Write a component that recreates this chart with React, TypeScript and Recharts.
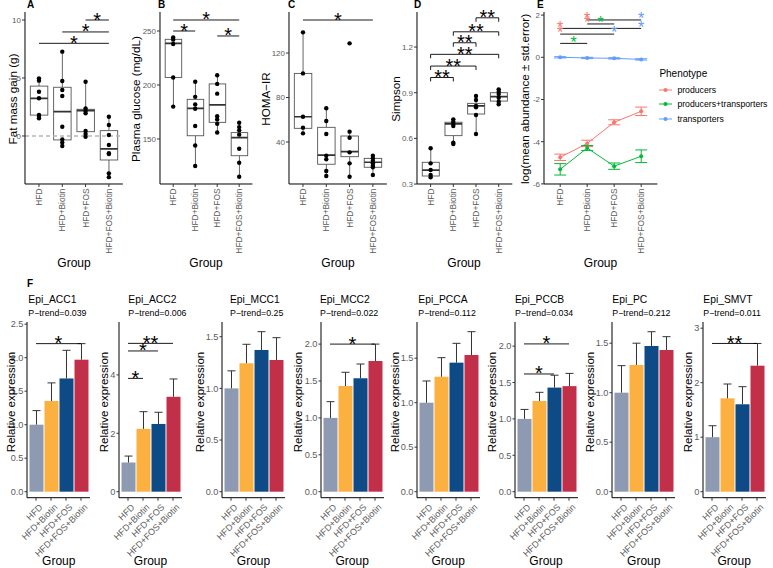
import React from 'react';
import {
  ComposedChart, LineChart, Line, Bar, Scatter, Cell, XAxis, YAxis,
  ReferenceLine, ReferenceDot, ErrorBar, Legend,
} from 'recharts';

const GROUPS = ['HFD', 'HFD+Biotin', 'HFD+FOS', 'HFD+FOS+Biotin'];
const [G1, G2, G3, G4] = GROUPS;

// A - fat mass gain (g); box rows are [lower whisker, Q1, median, Q3, upper whisker]
const fatPoints = [
  [4.97, 4.77, 3.82, 3.25, 1.81, 1.66, 1.52],
  [7.27, 4.74, 3.97, 3.45, 0.8, -0.29, -0.57, -0.86],
  [4.68, 2.38, 2.16, 1.95, 0.43, 0.17, -0.06],
  [1.66, 0.95, 0.09, -0.78, -1.49, -1.55, -3.22, -3.55],
];
const fatBox = [
  [1.52, 1.8, 3.25, 4.3, 4.97],
  [-0.86, -0.34, 2.1, 4.2, 7.27],
  [-0.06, 0.37, 2.18, 2.3, 4.68],
  [-3.55, -2.07, -1.12, 0.46, 1.66],
];
const fatSig = [[G1, G4, 7.99, '*'], [G2, G4, 8.97, '*'], [G3, G4, 10.0, '*']];

// B - plasma glucose (mg/dL)
const glucosePoints = [
  [244, 242, 238, 207, 180],
  [203, 189, 182, 178, 162, 144, 125],
  [209, 201, 192, 171, 168, 164, 156],
  [165, 161, 158, 154, 141, 128, 115],
];
const glucoseBox = [
  [180, 207, 238.6, 242.3, 244],
  [125, 153, 178.4, 186.7, 203],
  [156, 165.4, 181.5, 201, 209],
  [115, 134.5, 151.2, 155.9, 165.4],
];
const glucoseSig = [[G1, G4, 260.2, '*'], [G1, G2, 250, '*'], [G3, G4, 245.4, '*']];

// C - HOMA-IR
const homaPoints = [
  [138.6, 101.7, 62.7, 52.9, 47.8],
  [70.3, 58.9, 47.2, 27.7, 24.4, 13.9, 9.4],
  [128.7, 49.3, 43.9, 30.7, 20.8, 8.8],
  [27.7, 25.3, 23.2, 20.8, 18.7, 17.3, 10.3],
];
const homaBox = [
  [47.8, 52.3, 62.7, 101.7, 138.6],
  [9.4, 20, 28.3, 53.2, 70.3],
  [8.8, 26.8, 31.3, 45.4, 49.3],
  [10.3, 17.3, 21.8, 25.3, 27.7],
];
const homaSig = [[G1, G4, 149.7, '*']];

// D - Simpson diversity
const simpsonPoints = [
  [0.535, 0.436, 0.392, 0.36, 0.345],
  [0.725, 0.71, 0.695, 0.681, 0.572, 0.563],
  [0.878, 0.852, 0.813, 0.804, 0.754, 0.629],
  [0.922, 0.907, 0.891, 0.867, 0.841, 0.824],
];
const simpsonBox = [
  [0.345, 0.353, 0.392, 0.443, 0.535],
  [0.563, 0.618, 0.695, 0.706, 0.725],
  [0.629, 0.76, 0.813, 0.83, 0.878],
  [0.824, 0.845, 0.874, 0.9, 0.922],
];
const simpsonSig = [
  [G1, G2, 1.0, '**'], [G1, G3, 1.075, '**'], [G1, G4, 1.152, '**'],
  [G2, G3, 1.228, '**'], [G2, G4, 1.3, '**'], [G3, G4, 1.392, '**'],
];

// E - log mean abundance per phenotype
const PHENOTYPES = ['producers', 'producers+transporters', 'transporters'];
const producersMean = [-4.74, -4.08, -3.08, -2.56];
const producersErr = [0.15, 0.15, 0.12, 0.2];
const bothMean = [-5.31, -4.3, -5.16, -4.69];
const bothErr = [0.27, 0.12, 0.15, 0.3];
const transMean = [0, -0.03, -0.05, -0.1];
const transErr = [0.03, 0.03, 0.03, 0.03];
// [from, to, y, star at from, star at middle, star at to]
const abundSig = [
  [G2, G4, 1.77, 'producers', null, 'transporters'],
  [G2, G3, 1.58, 'producers', 'producers+transporters', null],
  [G1, G4, 1.37, 'producers', null, 'transporters'],
  [G1, G3, 1.1, 'producers', null, 'transporters'],
  [G1, G2, 0.66, null, 'producers+transporters', null],
];

// F - relative expression (mean, standard error)
const GENES = ['Epi_ACC1', 'Epi_ACC2', 'Epi_MCC1', 'Epi_MCC2', 'Epi_PCCA', 'Epi_PCCB', 'Epi_PC', 'Epi_SMVT'];
const PTREND = ['0.039', '0.006', '0.25', '0.022', '0.112', '0.034', '0.212', '0.011'];
const exprMean = [
  [1.0, 1.354, 1.69, 1.97],
  [1.0, 2.15, 2.32, 3.25],
  [1.0, 1.243, 1.372, 1.275],
  [1.0, 1.432, 1.537, 1.771],
  [1.0, 1.292, 1.45, 1.536],
  [1.0, 1.246, 1.43, 1.45],
  [1.0, 1.28, 1.472, 1.431],
  [1.0, 1.713, 1.604, 2.312],
];
const exprSe = [
  [0.21, 0.27, 0.42, 0.24],
  [0.22, 0.59, 0.4, 0.61],
  [0.17, 0.184, 0.177, 0.216],
  [0.22, 0.186, 0.193, 0.229],
  [0.244, 0.214, 0.217, 0.262],
  [0.13, 0.119, 0.17, 0.175],
  [0.273, 0.22, 0.144, 0.135],
  [0.21, 0.263, 0.323, 0.408],
];
const exprSig = [
  [[G1, G4, 2.21, '*']],
  [[G1, G4, 5.08, '**'], [G1, G3, 4.82, '*'], [G1, G2, 3.88, '*']],
  [],
  [[G1, G4, 2.0, '*']],
  [],
  [[G1, G4, 2.03, '*'], [G1, G3, 1.617, '*']],
  [],
  [[G1, G4, 2.72, '**']],
];
const exprTicks = [
  [0, 0.5, 1, 1.5, 2, 2.5], [0, 2, 4], [0, 0.5, 1, 1.5], [0, 0.5, 1, 1.5, 2],
  [0, 0.5, 1, 1.5], [0, 0.5, 1, 1.5, 2], [0, 0.5, 1, 1.5], [0, 1, 2, 3],
];

const FONT = '"Liberation Sans", Arial, Helvetica, sans-serif';
const TICK_FILL = '#5c5c5c';
const AXIS = { stroke: '#000', strokeWidth: 1 };
const TICK_LINE = { stroke: '#333', strokeWidth: 1 };
const GROUP_COLORS = ['#8d9ab1', '#fcb040', '#0d4a86', '#c22f49'];
const PHENO_COLORS: Record<string, string> = {
  producers: '#F8766D',
  'producers+transporters': '#00BA38',
  transporters: '#619CFF',
};
const YW = 26;
const TOP_PLOT = 12;
const TOP_H = 172;
const TOP_MT = 12;
const TOP_XH = 80;
const F_PLOT = 322;
const F_H = 175.7;
const F_MT = 22;
const F_XH = 62;

const fmt1 = (v: number) => v.toFixed(1);
const fmt0 = (v: number) => String(v);

function VTick(props: any) {
  const { x, y, payload } = props;
  return (
    <text x={x} y={y} transform={`rotate(-90, ${x}, ${y})`} textAnchor="end"
      dominantBaseline="central" fontSize={8.4} fill={TICK_FILL}>
      {payload.value}
    </text>
  );
}

function DiagTick(props: any) {
  const { x, y, payload } = props;
  const ax = x + 5;
  const ay = y + 3;
  return (
    <text x={ax} y={ay} transform={`rotate(-45, ${ax}, ${ay})`} textAnchor="end"
      dominantBaseline="central" fontSize={9} fill={TICK_FILL}>
      {payload.value}
    </text>
  );
}

function BoxShape(props: any) {
  const { x, y, width, height, payload } = props;
  const [lo, q1, med, q3, hi] = payload.stats;
  const py = (v: number) => y + height - ((v - q1) * height) / (q3 - q1);
  const cx = x + width / 2;
  const top = Math.min(y, y + height);
  return (
    <g>
      <line x1={cx} x2={cx} y1={py(hi)} y2={py(q3)} stroke="#555" strokeWidth={0.9} />
      <line x1={cx} x2={cx} y1={py(q1)} y2={py(lo)} stroke="#555" strokeWidth={0.9} />
      <rect x={x} y={top} width={width} height={Math.abs(height)} fill="#fff" stroke="#555" strokeWidth={0.9} />
      <line x1={x} x2={x + width} y1={py(med)} y2={py(med)} stroke="#333" strokeWidth={1.7} />
    </g>
  );
}

function MeanBar(props: any) {
  const { x, y, width, height, fill, payload } = props;
  const top = y - (payload.se * height) / payload.mean;
  const cx = x + width / 2;
  return (
    <g>
      <rect x={x} y={y} width={width} height={height} fill={fill} />
      <line x1={cx} x2={cx} y1={y} y2={top} stroke="#333" strokeWidth={1} />
      <line x1={cx - 4} x2={cx + 4} y1={top} y2={top} stroke="#333" strokeWidth={1} />
    </g>
  );
}

const starLabel = (text: string, size: number, color: string) => ({
  value: text, position: 'top', offset: -(0.575 * size - 5), fontSize: size, fill: color,
});

function sigMarks(list: any[], tip: number) {
  const out: any[] = [];
  list.forEach(([a, b, y, txt], i) => {
    out.push(
      <ReferenceLine key={`s${i}`} segment={[{ x: a, y }, { x: b, y }]} stroke="#000"
        strokeWidth={0.9} label={starLabel(txt, 20, '#000')} />,
    );
    if (tip) {
      out.push(<ReferenceLine key={`ta${i}`} segment={[{ x: a, y }, { x: a, y: y - tip }]} stroke="#000" strokeWidth={0.9} />);
      out.push(<ReferenceLine key={`tb${i}`} segment={[{ x: b, y }, { x: b, y: y - tip }]} stroke="#000" strokeWidth={0.9} />);
    }
  });
  return out;
}

const dotShape = (key: string) => (p: any) =>
  p.payload?.[key] == null || p.cy == null ? <g /> : <circle cx={p.cx} cy={p.cy} r={2.2} fill="#000" />;

function BoxPanel({ left, s, domain, ticks, fmt, points, box, sig, tip = 0, zeroLine = false }: any) {
  const rows = GROUPS.map((g, i) => {
    const row: any = { group: g, stats: box[i], box: [box[i][1], box[i][3]] };
    points[i].forEach((v: number, j: number) => { row[`p${j}`] = v; });
    return row;
  });
  const maxPts = Math.max(...points.map((p: number[]) => p.length));
  return (
    <div style={{ position: 'absolute', left: left - YW, top: TOP_PLOT - TOP_MT }}>
      <ComposedChart width={YW + 4.2 * s + 4} height={TOP_MT + TOP_H + TOP_XH} data={rows}
        margin={{ top: TOP_MT, right: 4, bottom: 0, left: 0 }}>
        <XAxis dataKey="group" type="category" interval={0} padding={{ left: s * 0.1, right: s * 0.1 }}
          height={TOP_XH} tick={<VTick />} tickSize={3} tickMargin={1.5} axisLine={AXIS} tickLine={TICK_LINE} />
        <YAxis type="number" domain={domain} ticks={ticks} allowDataOverflow width={YW} tickFormatter={fmt}
          tick={{ fontSize: 8, fill: TICK_FILL }} tickSize={3} tickMargin={1} axisLine={AXIS} tickLine={TICK_LINE} />
        {zeroLine && <ReferenceLine y={0} stroke="#b5b5b5" strokeWidth={1.6} strokeDasharray="4 3" />}
        <Bar dataKey="box" barSize={s * 0.75} shape={BoxShape} isAnimationActive={false} />
        {Array.from({ length: maxPts }, (_, j) => (
          <Scatter key={j} dataKey={`p${j}`} shape={dotShape(`p${j}`)} isAnimationActive={false} />
        ))}
        {sigMarks(sig, tip)}
      </ComposedChart>
    </div>
  );
}

function ExprPanel({ left, idx, domain }: any) {
  const rows = GROUPS.map((g, i) => ({ group: g, mean: exprMean[idx][i], se: exprSe[idx][i] }));
  const s = 15;
  const decimals = exprTicks[idx].some((t) => !Number.isInteger(t));
  return (
    <div style={{ position: 'absolute', left: left - YW, top: F_PLOT - F_MT }}>
      <ComposedChart width={YW + 4.2 * s + 4} height={F_MT + F_H + F_XH} data={rows}
        margin={{ top: F_MT, right: 4, bottom: 0, left: 0 }}>
        <XAxis dataKey="group" type="category" interval={0} padding={{ left: s * 0.1, right: s * 0.1 }}
          height={F_XH} tick={<DiagTick />} tickSize={3} tickMargin={2} axisLine={AXIS} tickLine={TICK_LINE} />
        <YAxis type="number" domain={domain} ticks={exprTicks[idx]} allowDataOverflow width={YW}
          tickFormatter={decimals ? fmt1 : fmt0} tick={{ fontSize: 9.2, fill: TICK_FILL }}
          tickSize={2.5} tickMargin={1} axisLine={AXIS} tickLine={TICK_LINE} />
        <Bar dataKey="mean" barSize={14} shape={MeanBar} isAnimationActive={false}>
          {rows.map((r, i) => <Cell key={r.group} fill={GROUP_COLORS[i]} />)}
        </Bar>
        {sigMarks(exprSig[idx], 0)}
      </ComposedChart>
    </div>
  );
}

function PhenoLegend(props: any) {
  const { payload = [] } = props;
  return (
    <div style={{ fontFamily: FONT, paddingLeft: 2, whiteSpace: 'nowrap' }}>
      <div style={{ fontSize: 10, lineHeight: '12px', color: '#000', marginBottom: 2.7 }}>Phenotype</div>
      {payload.map((e: any) => (
        <div key={e.value} style={{ display: 'flex', alignItems: 'center', height: 14.5 }}>
          <svg width={13} height={6}>
            <line x1={0} x2={13} y1={3} y2={3} stroke={e.color} strokeWidth={1} />
            <circle cx={6.5} cy={3} r={2} fill={e.color} />
          </svg>
          <span style={{ marginLeft: 5, fontSize: 8.7, color: '#000' }}>{e.value}</span>
        </div>
      ))}
    </div>
  );
}

function StarDot(color: string) {
  return (p: any) => (
    <text x={p.cx} y={p.cy + 4.2} textAnchor="middle" fontSize={16} fill={color}>*</text>
  );
}

function AbundancePanel() {
  const s = 27;
  const LEG_W = 116;
  const rows = GROUPS.map((g, i) => ({
    group: g,
    prod: producersMean[i], prodErr: producersErr[i],
    both: bothMean[i], bothErr: bothErr[i],
    trans: transMean[i], transErr: transErr[i],
  }));
  const series = [
    ['prod', 'prodErr', PHENOTYPES[0]],
    ['both', 'bothErr', PHENOTYPES[1]],
    ['trans', 'transErr', PHENOTYPES[2]],
  ];
  const marks: any[] = [];
  abundSig.forEach(([a, b, y, sa, sm, sb]: any, i) => {
    marks.push(
      <ReferenceLine key={`l${i}`} segment={[{ x: a, y }, { x: b, y }]} stroke="#000" strokeWidth={0.9}
        label={sm ? starLabel('*', 16, PHENO_COLORS[sm]) : undefined} />,
    );
    if (sa) marks.push(<ReferenceDot key={`a${i}`} x={a} y={y} r={0} shape={StarDot(PHENO_COLORS[sa])} />);
    if (sb) marks.push(<ReferenceDot key={`b${i}`} x={b} y={y} r={0} shape={StarDot(PHENO_COLORS[sb])} />);
  });
  return (
    <div style={{ position: 'absolute', left: 544 - YW, top: TOP_PLOT - TOP_MT }}>
      <LineChart width={YW + 4.2 * s + LEG_W} height={TOP_MT + TOP_H + TOP_XH} data={rows}
        margin={{ top: TOP_MT, right: 0, bottom: 0, left: 0 }}>
        <XAxis dataKey="group" type="category" scale="point" interval={0} padding={{ left: s * 0.6, right: s * 0.6 }}
          height={TOP_XH} tick={<VTick />} tickSize={3} tickMargin={1.5} axisLine={AXIS} tickLine={TICK_LINE} />
        <YAxis type="number" domain={[-6.005, 2.147]} ticks={[-6, -4, -2, 0, 2]} allowDataOverflow width={YW}
          tickFormatter={fmt0} tick={{ fontSize: 8, fill: TICK_FILL }} tickSize={3} tickMargin={1}
          axisLine={AXIS} tickLine={TICK_LINE} />
        {series.map(([k, ek, name]) => (
          <Line key={k} dataKey={k} name={name} stroke={PHENO_COLORS[name]} strokeWidth={1}
            dot={{ r: 2, fill: PHENO_COLORS[name], stroke: 'none' }} isAnimationActive={false}>
            <ErrorBar dataKey={ek} width={6} stroke={PHENO_COLORS[name]} strokeWidth={1} direction="y" />
          </Line>
        ))}
        {marks}
        <Legend layout="vertical" align="right" verticalAlign="top" content={<PhenoLegend />}
          wrapperStyle={{ width: LEG_W, top: 68 }} />
      </LineChart>
    </div>
  );
}

// F panels: plot left edge and pixels per unit (sets each y domain)
const F_LEFT = [27.3, 119, 222, 320.7, 416.7, 514.5, 612.3, 702.7];
const F_TITLE_X = [28.3, 128.3, 230, 320, 418.3, 515, 612.3, 703.3];
const F_YTITLE_X = [11, 104, 200, 298, 395, 492, 590, 687.7];
const F_SCALE = [67, 29.2, 103.3, 73.8, 89, 72.8, 99, 54.5];

export default function App() {
  const topGroupX = [74, 206, 338, 464, 600.5];
  const topTitles = [
    ['Fat mass gain (g)', 12], ['Plasma glucose (mg/dL)', 135], ['HOMA\u2212IR', 265],
    ['Simpson', 395], ['log(mean abundance \u00b1 std.error)', 524],
  ];
  const letters = [['A', 27, 7.5], ['B', 158, 7.5], ['C', 288, 7.5], ['D', 414, 7.5], ['E', 537, 7.5], ['F', 27, 287]];
  return (
    <div style={{ position: 'absolute', left: 0, top: 0, width: 773, height: 568, background: '#fff', overflow: 'hidden', fontFamily: FONT }}>
      <BoxPanel left={25} s={23.3} domain={[-4.14, 10.69]} ticks={[0, 5, 10]} fmt={fmt0}
        points={fatPoints} box={fatBox} sig={fatSig} zeroLine />
      <BoxPanel left={159.8} s={22} domain={[108.3, 267.6]} ticks={[150, 200, 250]} fmt={fmt0}
        points={glucosePoints} box={glucoseBox} sig={glucoseSig} />
      <BoxPanel left={289} s={23.3} domain={[2.25, 156.9]} ticks={[40, 80, 120]} fmt={fmt0}
        points={homaPoints} box={homaBox} sig={homaSig} />
      <BoxPanel left={416.5} s={22.7} domain={[0.3005, 1.43]} ticks={[0.3, 0.6, 0.9, 1.2]} fmt={fmt1}
        points={simpsonPoints} box={simpsonBox} sig={simpsonSig} tip={0.026} />
      <AbundancePanel />
      {GENES.map((g, i) => (
        <ExprPanel key={g} idx={i} left={F_LEFT[i]} domain={[-6 / F_SCALE[i], 169.7 / F_SCALE[i]]} />
      ))}
      <svg width={773} height={568} style={{ position: 'absolute', left: 0, top: 0, pointerEvents: 'none' }}>
        {letters.map(([t, x, y]) => (
          <text key={t as string} x={x as number} y={y as number} fontSize={10} fontWeight="bold" fill="#000">{t}</text>
        ))}
        {topTitles.map(([t, x]) => (
          <text key={t as string} x={x as number} y={99} transform={`rotate(-90, ${x}, 99)`} textAnchor="middle"
            dominantBaseline="central" fontSize={11.7} fill="#000">{t}</text>
        ))}
        {topGroupX.map((x) => (
          <text key={x} x={x} y={267} textAnchor="middle" fontSize={12} fill="#000">Group</text>
        ))}
        {GENES.map((g, i) => (
          <g key={g}>
            <text x={F_TITLE_X[i]} y={303} fontSize={10.3} fill="#000">{g}</text>
            <text x={F_TITLE_X[i]} y={316} fontSize={8.8} fill="#000">{`P\u2212trend=${PTREND[i]}`}</text>
            <text x={F_YTITLE_X[i]} y={402} transform={`rotate(-90, ${F_YTITLE_X[i]}, 402)`} textAnchor="middle"
              dominantBaseline="central" fontSize={11.5} fill="#000">Relative expression</text>
            <text x={F_LEFT[i] + 31.5} y={565} textAnchor="middle" fontSize={12} fill="#000">Group</text>
          </g>
        ))}
      </svg>
    </div>
  );
}
